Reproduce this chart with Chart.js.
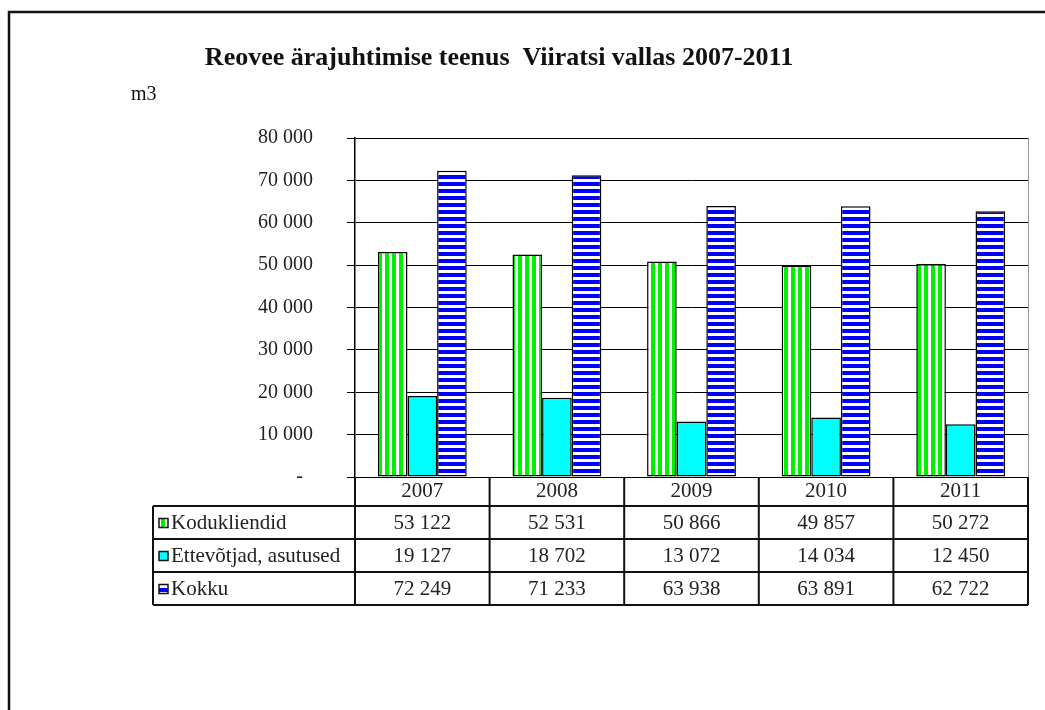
<!DOCTYPE html>
<html>
<head>
<meta charset="utf-8">
<script src="https://cdn.jsdelivr.net/npm/chart.js@4.4.0/dist/chart.umd.min.js"></script>
<style>
  html, body { margin: 0; padding: 0; background: #fff; }
  #wrap { width: 1045px; height: 710px; }
</style>
</head>
<body>
<div id="wrap"><canvas id="salesChart" width="1045" height="710"></canvas></div>
<script>
// data
let years = ['2007', '2008', '2009', '2010', '2011'];
let kodukliendid = [53122, 52531, 50866, 49857, 50272];
let ettevotjad = [19127, 18702, 13072, 14034, 12450];
let kokku = [72249, 71233, 63938, 63891, 62722];
let seriesNames = ['Kodukliendid', 'Ettevõtjad, asutused', 'Kokku'];
let yTicks = [0, 10000, 20000, 30000, 40000, 50000, 60000, 70000, 80000];

let titleText = 'Reovee ärajuhtimise teenus  Viiratsi vallas 2007-2011';
let unitText = 'm3';

const serif = 'Liberation Serif';

function fmt(n) {
    return String(n).replace(/\B(?=(\d{3})+(?!\d))/g, ' ');
}

// striped fills like the old excel patterns
function makePattern(kind) {
    let c = document.createElement('canvas');
    c.width = 7; c.height = 7;
    let g = c.getContext('2d');
    g.fillStyle = '#fff';
    g.fillRect(0, 0, 7, 7);
    if (kind === 'vert') {
        g.fillStyle = '#00f000';
        g.fillRect(0, 0, 4, 7);
    } else {
        g.fillStyle = '#0000ff';
        g.fillRect(0, 0, 7, 4);
    }
    return g.createPattern(c, 'repeat');
}

let ctx = document.getElementById('salesChart').getContext('2d');
let fills = [makePattern('vert'), '#00ffff', makePattern('horiz')];

// title, unit label and frame
const decorPlugin = {
    id: 'decor',
    beforeDraw(chart) {
        const c = chart.ctx;
        c.save();
        c.fillStyle = '#fff';
        c.fillRect(0, 0, chart.width, chart.height);
        c.strokeStyle = '#111';
        c.lineWidth = 2.5;
        c.beginPath();
        c.moveTo(9, chart.height);
        c.lineTo(9, 12);
        c.lineTo(chart.width, 12);
        c.stroke();
        c.fillStyle = '#111';
        c.font = 'bold 26px "' + serif + '"';
        c.textAlign = 'center';
        c.textBaseline = 'middle';
        c.fillText(titleText, 499, 58);
        c.font = '20px "' + serif + '"';
        c.textAlign = 'left';
        c.fillText(unitText, 131, 95);
        c.restore();
    }
};

// data table under the plot
const tablePlugin = {
    id: 'dataTable',
    afterDraw(chart) {
        const c = chart.ctx;
        const ca = chart.chartArea;
        const xs = chart.scales.x;
        const cw = (ca.right - ca.left) / years.length;
        const headBottom = ca.bottom + 29;
        const rowH = 33;
        const tableBottom = headBottom + rowH * 3;
        const legLeft = 153;
        const rows = [kodukliendid, ettevotjad, kokku];

        c.save();
        // light right edge of plot area
        c.strokeStyle = '#999';
        c.lineWidth = 1;
        c.beginPath();
        c.moveTo(ca.right + 0.5, ca.top);
        c.lineTo(ca.right + 0.5, ca.bottom);
        c.stroke();

        c.strokeStyle = '#111';
        c.lineWidth = 2;
        c.beginPath();
        for (let k = 0; k <= 3; k++) {
            let y = headBottom + k * rowH;
            c.moveTo(legLeft, y);
            c.lineTo(ca.right, y);
        }
        c.moveTo(legLeft, headBottom);
        c.lineTo(legLeft, tableBottom);
        for (let i = 0; i <= years.length; i++) {
            let x = i < years.length ? xs.getPixelForValue(i) - cw / 2 : ca.right;
            c.moveTo(x, ca.bottom);
            c.lineTo(x, tableBottom);
        }
        c.stroke();

        c.font = '21px "' + serif + '"';
        c.textBaseline = 'middle';
        rows.forEach((vals, r) => {
            let yc = headBottom + r * rowH + rowH / 2 + 1;
            // legend key
            c.fillStyle = fills[r];
            c.fillRect(159, yc - 5, 9, 9);
            c.strokeStyle = '#111';
            c.lineWidth = 1.5;
            c.strokeRect(159, yc - 5, 9, 9);
            c.fillStyle = '#222';
            c.textAlign = 'left';
            c.fillText(seriesNames[r], 171, yc);
            c.textAlign = 'center';
            vals.forEach((v, i) => {
                c.fillText(fmt(v), xs.getPixelForValue(i), yc);
            });
        });
        c.restore();
    }
};

let myChart1 = new Chart(ctx, {
    type: 'bar',
    data: {
        labels: years,
        datasets: [
            { label: seriesNames[0], data: kodukliendid, backgroundColor: fills[0] },
            { label: seriesNames[1], data: ettevotjad, backgroundColor: fills[1] },
            { label: seriesNames[2], data: kokku, backgroundColor: fills[2] }
        ]
    },
    options: {
        responsive: false,
        animation: false,
        devicePixelRatio: 1,
        layout: { padding: { top: 138, right: 17, left: 0, bottom: 0 } },
        datasets: {
            bar: {
                borderColor: '#000',
                borderWidth: 1.5,
                borderSkipped: false,
                categoryPercentage: 0.66,
                barPercentage: 1
            }
        },
        plugins: {
            legend: { display: false },
            tooltip: { enabled: false },
            title: { display: false }
        },
        scales: {
            x: {
                offset: true,
                grid: { display: false, drawTicks: false },
                border: { display: false },
                ticks: {
                    color: '#222',
                    padding: 2,
                    font: { family: serif, size: 21 }
                },
                afterFit(scale) { scale.height = 233; }
            },
            y: {
                min: 0,
                max: 80000,
                afterBuildTicks(scale) {
                    scale.ticks = yTicks.map(v => ({ value: v }));
                },
                grid: { color: '#000', lineWidth: 1, tickLength: 8, drawTicks: true },
                border: { display: true, color: '#000', width: 1.5 },
                ticks: {
                    color: '#222',
                    padding: 34,
                    font: { family: serif, size: 20 },
                    callback: v => v === 0 ? '-  ' : fmt(v)
                },
                afterFit(scale) { scale.width = 355; }
            }
        }
    },
    plugins: [decorPlugin, tablePlugin]
});
</script>
</body>
</html>
